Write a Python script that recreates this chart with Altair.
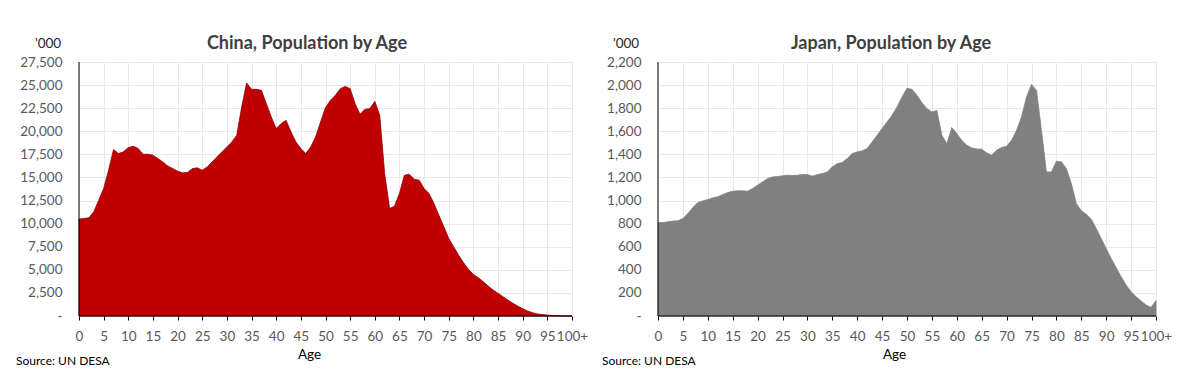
import altair as alt
import pandas as pd

# ---- data ('000 people by single year of age) ----
ages = list(range(101))
age_ticks = list(range(0, 101, 5))

china_pop = [10490, 10560, 10630, 11280, 12540, 13800, 15780, 18020, 17590, 17770,
             18230, 18380, 18130, 17510, 17510, 17410, 17050, 16680, 16250, 15960,
             15680, 15500, 15530, 15960, 16040, 15780, 16140, 16680, 17230, 17770,
             18310, 18850, 19570, 22630, 25230, 24540, 24540, 24430, 22990, 21550,
             20290, 20830, 21190, 19930, 18850, 18130, 17590, 18310, 19390, 21010,
             22560, 23350, 23890, 24610, 24860, 24610, 22990, 21840, 22380, 22450,
             23240, 21730, 15420, 11640, 11890, 13260, 15240, 15350, 14810, 14700,
             13800, 13260, 12180, 10920, 9660, 8400, 7500, 6590, 5770, 5050,
             4500, 4140, 3710, 3240, 2810, 2450, 2090, 1730, 1370, 1080,
             790, 540, 360, 220, 150, 100, 60, 40, 20, 10, 10]

japan_pop = [810, 810, 816, 822, 824, 845, 888, 940, 983, 997,
             1009, 1023, 1032, 1052, 1069, 1081, 1084, 1084, 1081, 1104,
             1133, 1162, 1191, 1205, 1208, 1214, 1219, 1217, 1219, 1225,
             1225, 1211, 1225, 1234, 1248, 1291, 1320, 1329, 1364, 1407,
             1421, 1430, 1450, 1508, 1565, 1623, 1681, 1738, 1810, 1897,
             1972, 1963, 1911, 1848, 1796, 1767, 1781, 1565, 1493, 1632,
             1580, 1522, 1479, 1456, 1447, 1444, 1413, 1392, 1436, 1459,
             1470, 1522, 1609, 1724, 1897, 2006, 1954, 1609, 1248, 1248,
             1340, 1335, 1277, 1147, 974, 911, 882, 839, 758, 672,
             585, 499, 418, 340, 268, 210, 167, 130, 95, 75, 133]

china_ticks = list(range(0, 27501, 2500))
japan_ticks = list(range(0, 2201, 200))

titles = ["China, Population by Age", "Japan, Population by Age"]
unit_label = ["'000"]
source_label = ["Source: UN DESA"]
x_title = "Age"

FONT = "Lato"
H = 254


def panel(values, yticks, ymax, width, color, stroke, title, title_x,
          unit_x, source_x, age_title_x):
    df = pd.DataFrame({"age": ages, "pop": values})
    xs = alt.Scale(domain=[0, 100], nice=False, zero=False)
    ys = alt.Scale(domain=[0, ymax], nice=False)

    x_axis = alt.Axis(
        values=age_ticks,
        labelExpr="datum.value == 100 ? '100+' : datum.label",
        title=x_title, titleX=age_title_x, titleY=38,
        titleBaseline="middle", titleAlign="center",
        titleFont=FONT, titleFontSize=13.5, titleFontWeight="normal",
        titleColor="#000000",
        labelFont=FONT, labelFontSize=13.5, labelColor="#595959",
        labelPadding=9, tickSize=4, tickColor="#000000",
        domain=False, grid=True, gridColor="#e8e8e8",
        labelOverlap=False, labelFlush=False)
    y_axis = alt.Axis(
        values=yticks,
        labelExpr="datum.value == 0 ? '-' : format(datum.value, ',')",
        title=None, ticks=False, domain=False,
        labelFont=FONT, labelFontSize=13.5, labelColor="#595959",
        labelPadding=17, grid=True, gridColor="#e8e8e8",
        labelOverlap=False, labelFlush=False)

    area = alt.Chart(df).mark_area(
        color=color, stroke=stroke, strokeWidth=0.8, opacity=1
    ).encode(
        x=alt.X("age:Q", scale=xs, axis=x_axis),
        y=alt.Y("pop:Q", scale=ys, axis=y_axis),
    )

    axis_lines = pd.DataFrame({"x0": [0, 0], "x1": [0, 100],
                               "y0": [0, 0], "y1": [ymax, 0]})
    rules = alt.Chart(axis_lines).mark_rule(color="#000000", strokeWidth=1).encode(
        x=alt.X("x0:Q", scale=xs, axis=x_axis),
        x2="x1:Q",
        y=alt.Y("y0:Q", scale=ys, axis=y_axis),
        y2="y1:Q",
    )

    t = alt.Chart(pd.DataFrame({"t": [title]})).mark_text(
        font=FONT, fontSize=18, fontWeight="bold", color="#404040",
        align="center", baseline="middle"
    ).encode(text="t:N", x=alt.value(title_x), y=alt.value(-18))

    u = alt.Chart(pd.DataFrame({"t": unit_label})).mark_text(
        font=FONT, fontSize=13.5, color="#262626",
        align="center", baseline="middle"
    ).encode(text="t:N", x=alt.value(unit_x), y=alt.value(-18))

    s = alt.Chart(pd.DataFrame({"t": source_label})).mark_text(
        font=FONT, fontSize=12, color="#000000",
        align="left", baseline="middle"
    ).encode(text="t:N", x=alt.value(source_x), y=alt.value(H + 45))

    return alt.layer(area, rules, t, u, s).properties(width=width, height=H)


china = panel(china_pop, china_ticks, 27500, 493, "#c00000", "#8f0000",
              titles[0], 228, -31, -63, 230)
japan = panel(japan_pop, japan_ticks, 2200, 498, "#808080", "#808080",
              titles[1], 233, -32, -56, 236)

chart = alt.hconcat(china, japan, spacing=12).properties(
    padding={"left": 7, "top": 26, "right": 0, "bottom": 0}
).configure_view(stroke=None).configure(background="white")

chart.save("out.html", embed_options={"renderer": "svg", "actions": False})
